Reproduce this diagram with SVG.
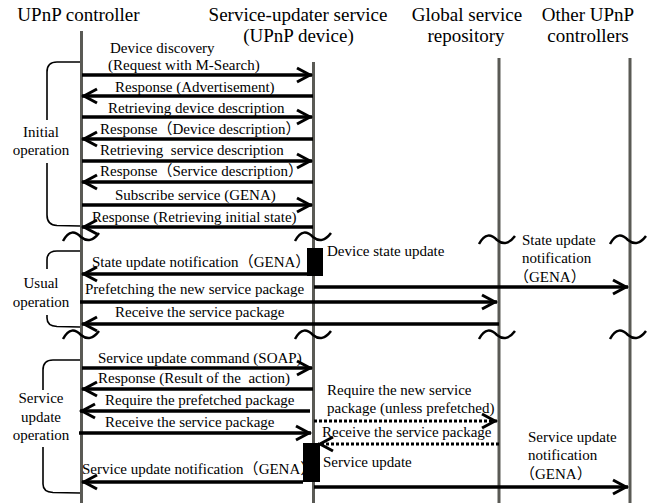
<svg xmlns="http://www.w3.org/2000/svg" width="647" height="503" viewBox="0 0 647 503">
<style>
text{font-family:"Liberation Serif","Times New Roman",Times,serif;fill:#000}
.cj{font-family:"Noto Sans CJK JP","Noto Serif CJK JP",sans-serif}
.h{font-size:19px;text-anchor:middle}
.m{font-size:15px}
.b{font-size:15px;text-anchor:middle}
.life{stroke:#5a5a55;stroke-width:3;fill:none}
.msg{stroke:#000;stroke-width:3.5;fill:none;marker-end:url(#ah)}
.dot{stroke:#000;stroke-width:3;fill:none;stroke-dasharray:3 2;marker-end:url(#ah)}
.br{stroke:#000;stroke-width:1.6;fill:none}
.tl{stroke:#000;stroke-width:2.5;fill:none}
</style>
<defs>
<marker id="ah" markerUnits="userSpaceOnUse" viewBox="-2 -2 22 18" markerWidth="22" markerHeight="18" refX="16" refY="7" orient="auto">
<path d="M1,0 L14,7 L1,14" stroke="#000" stroke-width="3" fill="none"/>
</marker>
<path id="tilde" d="M-18,5 C-12,-6 -6,-5 0,1 C6,6 12,5 18,-3"/>
</defs>
<rect width="647" height="503" fill="#fff"/>

<g id="lifeline-controller">
<text class="h" x="78.5" y="21">UPnP controller</text>
<line class="life" x1="81.5" y1="31" x2="81.5" y2="503"/>
</g>
<g id="lifeline-service-updater">
<text class="h" x="298" y="21">Service-updater service</text>
<text class="h" x="298.5" y="42">(UPnP device)</text>
<line class="life" x1="313.5" y1="62" x2="313.5" y2="503"/>
</g>
<g id="lifeline-global-repository">
<text class="h" x="467" y="21">Global service</text>
<text class="h" x="466" y="42">repository</text>
<line class="life" x1="499" y1="58" x2="499" y2="503"/>
</g>
<g id="lifeline-other-controllers">
<text class="h" x="588" y="21">Other UPnP</text>
<text class="h" x="588" y="42">controllers</text>
<line class="life" x1="630" y1="58" x2="630" y2="503"/>
</g>

<g id="breaks">
<use href="#tilde" class="tl" x="81" y="236"/>
<use href="#tilde" class="tl" x="313" y="236"/>
<use href="#tilde" class="tl" x="497" y="239"/>
<use href="#tilde" class="tl" x="628" y="239"/>
<use href="#tilde" class="tl" x="81" y="334"/>
<use href="#tilde" class="tl" x="313" y="334"/>
<use href="#tilde" class="tl" x="497" y="334"/>
<use href="#tilde" class="tl" x="628" y="334"/>
</g>

<g id="phase-initial">
<path class="br" d="M80,62 L57,62 Q47,62 47,72 L47,120 M47,163 L47,215 Q47,225 57,225.5 L80,226"/>
<text class="b" x="41" y="137">Initial</text>
<text class="b" x="41" y="155">operation</text>
</g>
<g id="phase-usual">
<path class="br" d="M80,251 L57,251 Q47,251 47,260 L47,269 M47,315 L47,318 Q47,326 57,326.5 L80,327"/>
<text class="b" x="41" y="288">Usual</text>
<text class="b" x="41" y="307">operation</text>
</g>
<g id="phase-service-update">
<path class="br" d="M80,360 L53,360 Q43,360 43,370 L43,390 M43,447 L43,484 Q43,492 53,492.5 L80,493"/>
<text class="b" x="41" y="403">Service</text>
<text class="b" x="41" y="422">update</text>
<text class="b" x="41" y="440">operation</text>
</g>

<g id="activation-device-state-update">
<rect x="307" y="248" width="16" height="28" fill="#000"/>
<text class="m" x="327" y="256">Device state update</text>
</g>
<g id="activation-service-update">
<rect x="303" y="443" width="17" height="39" fill="#000"/>
<text class="m" x="323" y="467">Service update</text>
</g>

<g id="connectors">
<line class="msg" x1="82" y1="75" x2="312" y2="75"/>
<line class="msg" x1="313" y1="96" x2="82" y2="96"/>
<line class="msg" x1="82" y1="117" x2="312" y2="117"/>
<line class="msg" x1="313" y1="139" x2="82" y2="139"/>
<line class="msg" x1="82" y1="161" x2="312" y2="161"/>
<line class="msg" x1="313" y1="182" x2="82" y2="182"/>
<line class="msg" x1="82" y1="205" x2="312" y2="205"/>
<line class="msg" x1="313" y1="227" x2="82" y2="227"/>

<line class="msg" x1="307" y1="274" x2="82" y2="274"/>
<line class="msg" x1="314" y1="287" x2="628" y2="287"/>
<line class="msg" x1="80" y1="302" x2="497" y2="302"/>
<line class="msg" x1="499" y1="324" x2="82" y2="324"/>

<line class="msg" x1="82" y1="368" x2="312" y2="368"/>
<line class="msg" x1="313" y1="389" x2="82" y2="389"/>
<line class="msg" x1="310" y1="411" x2="80" y2="411"/>
<line class="msg" x1="79" y1="433" x2="311" y2="433"/>
<line class="dot" x1="314" y1="421" x2="497" y2="421"/>
<line class="dot" x1="499" y1="444" x2="318" y2="444"/>
<line class="msg" x1="303" y1="482" x2="82" y2="482"/>
<line class="msg" x1="314" y1="487" x2="628" y2="487"/>
</g>

<g id="labels">
<text class="m" x="110" y="53">Device discovery</text>
<text class="m" x="108" y="70">(Request with M-Search)</text>
<text class="m" x="115" y="92">Response (Advertisement)</text>
<text class="m" x="108" y="113">Retrieving device description</text>
<text class="m" x="100" y="134">Response<tspan class="cj">（</tspan>Device description<tspan class="cj">）</tspan></text>
<text class="m" x="100" y="155" xml:space="preserve">Retrieving  service description</text>
<text class="m" x="100" y="176">Response<tspan class="cj">（</tspan>Service description<tspan class="cj">）</tspan></text>
<text class="m" x="115" y="200">Subscribe service (GENA)</text>
<text class="m" x="92" y="222">Response (Retrieving initial state)</text>

<text class="m" x="92" y="267">State update notification<tspan class="cj">（</tspan>GENA<tspan class="cj">）</tspan></text>
<text class="m" x="85" y="294">Prefetching the new service package</text>
<text class="m" x="115" y="317">Receive the service package</text>
<text class="m" x="522" y="245">State update</text>
<text class="m" x="522" y="263">notification</text>
<text class="m" x="514" y="282"><tspan class="cj">（</tspan>GENA<tspan class="cj">）</tspan></text>

<text class="m" x="98" y="363">Service update command (SOAP)</text>
<text class="m" x="98" y="383" xml:space="preserve">Response (Result of the  action)</text>
<text class="m" x="105" y="405">Require the prefetched package</text>
<text class="m" x="105" y="427">Receive the service package</text>
<text class="m" x="327" y="395">Require the new service</text>
<text class="m" x="327" y="413">package (unless prefetched)</text>
<text class="m" x="322" y="437">Receive the service package</text>
<text class="m" x="82" y="474">Service update notification<tspan class="cj">（</tspan>GENA<tspan class="cj">）</tspan></text>
<text class="m" x="528" y="442">Service update</text>
<text class="m" x="528" y="460">notification</text>
<text class="m" x="520" y="479"><tspan class="cj">（</tspan>GENA<tspan class="cj">）</tspan></text>
</g>
</svg>
